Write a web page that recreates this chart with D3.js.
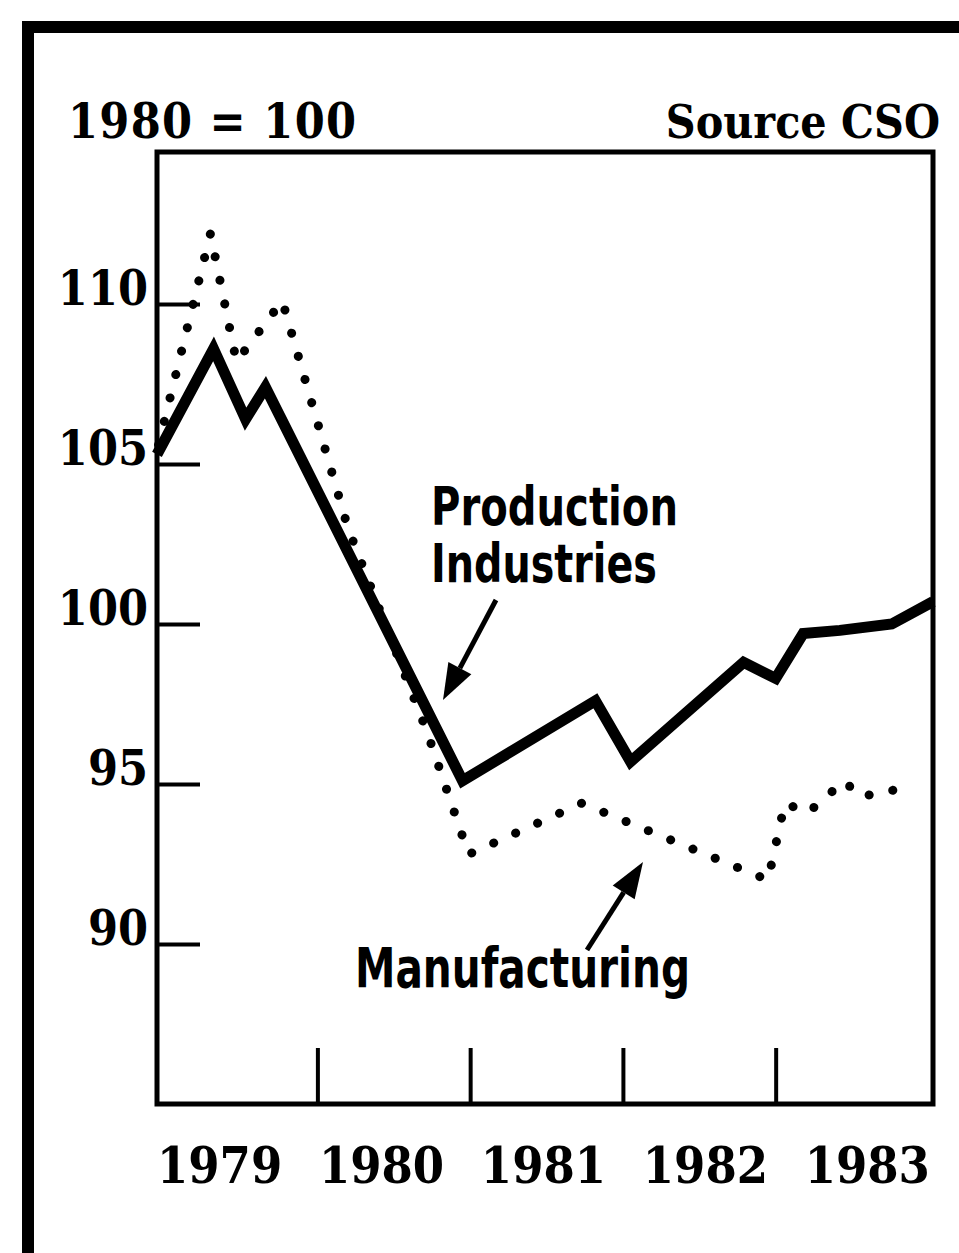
<!DOCTYPE html>
<html>
<head>
    <meta charset="utf-8" />
    <title>Production index 1979-1983</title>
    <style>
        body { margin: 0; background: #fff; }
        svg { display: block; }
        .serif { font-family: "DejaVu Serif", serif; font-weight: bold; font-stretch: condensed; }
        .cond { font-family: "DejaVu Sans", sans-serif; font-weight: bold; }
    </style>
</head>
<body>
    <svg id="chart"></svg>
    <script src="https://cdn.jsdelivr.net/npm/d3@7"></script>
    <script>
        // data (index, 1980 = 100)
        var prodYears = [1978.95, 1979.32, 1979.53, 1979.66, 1980.95, 1981.82, 1982.05, 1982.79, 1983.0, 1983.18, 1983.42, 1983.76, 1984.03];
        var prodValues = [105.3, 108.6, 106.4, 107.4, 95.1, 97.6, 95.7, 98.8, 98.3, 99.7, 99.8, 100.0, 100.7];

        var mfgYears = [1978.96, 1979.3, 1979.47, 1979.77, 1980.2, 1980.72, 1980.99, 1981.73, 1982.95, 1983.06, 1983.21, 1983.45, 1983.55, 1983.87];
        var mfgValues = [105.6, 112.2, 108.2, 110.1, 103.0, 96.6, 92.8, 94.4, 92.0, 94.4, 94.1, 95.1, 94.6, 94.9];

        var yTicks = [90, 95, 100, 105, 110];
        var yearTicks = [1980, 1981, 1982, 1983];
        var yearLabels = ["1979", "1980", "1981", "1982", "1983"];

        var W = 959, H = 1253;
        var svg = d3.select("#chart").attr("width", W).attr("height", H);

        var x = d3.scaleLinear().domain([1978.95, 1984.03]).range([157, 933]);
        var y = d3.scaleLinear().domain([85, 114.75]).range([1104, 152]);

        // outer box, cut off on the right and bottom
        svg.append("rect")
            .attr("x", 28).attr("y", 27)
            .attr("width", 1000).attr("height", 1300)
            .attr("fill", "none").attr("stroke", "#000").attr("stroke-width", 12);

        // titles
        svg.append("text").attr("class", "serif")
            .attr("x", 68).attr("y", 138)
            .attr("font-size", 48)
            .attr("textLength", 288).attr("lengthAdjust", "spacing")
            .text("1980 = 100");
        svg.append("text").attr("class", "serif")
            .attr("x", 940).attr("y", 138)
            .attr("text-anchor", "end")
            .attr("font-size", 46)
            .text("Source CSO");

        // plot frame
        svg.append("rect")
            .attr("x", x.range()[0]).attr("y", y.range()[1])
            .attr("width", x.range()[1] - x.range()[0])
            .attr("height", y.range()[0] - y.range()[1])
            .attr("fill", "none").attr("stroke", "#000").attr("stroke-width", 5);

        // y axis: ticks inside the frame, labels sit on the tick
        var yAxis = svg.append("g")
            .attr("transform", "translate(" + x.range()[0] + ",0)")
            .call(d3.axisRight(y).tickValues(yTicks).tickSize(43).tickFormat(""));
        yAxis.select(".domain").remove();
        yAxis.selectAll("line").attr("stroke", "#000").attr("stroke-width", 4);

        svg.selectAll(".ylab")
            .data(yTicks)
            .enter()
            .append("text")
            .attr("class", "serif ylab")
            .attr("x", 148)
            .attr("y", function(d) { return y(d) + 1; })
            .attr("text-anchor", "end")
            .attr("font-size", 48)
            .text(function(d) { return d; });

        // x axis: year boundary ticks pointing up
        var xAxis = svg.append("g")
            .attr("transform", "translate(0," + y.range()[0] + ")")
            .call(d3.axisTop(x).tickValues(yearTicks).tickSize(56).tickFormat(""));
        xAxis.select(".domain").remove();
        xAxis.selectAll("line").attr("stroke", "#000").attr("stroke-width", 4);

        var labelX = d3.scalePoint()
            .domain(yearLabels)
            .range([x(1979.36), x(1983.6)]);
        svg.selectAll(".xlab")
            .data(yearLabels)
            .enter()
            .append("text")
            .attr("class", "serif xlab")
            .attr("x", function(d) { return labelX(d); })
            .attr("y", 1183)
            .attr("text-anchor", "middle")
            .attr("font-size", 50)
            .text(function(d) { return d; });

        // series
        var line = d3.line()
            .x(function(d) { return x(d[0]); })
            .y(function(d) { return y(d[1]); });

        svg.append("path")
            .datum(d3.zip(mfgYears, mfgValues))
            .attr("d", line)
            .attr("fill", "none")
            .attr("stroke", "#000")
            .attr("stroke-width", 9)
            .attr("stroke-linecap", "round")
            .attr("stroke-dasharray", "0.1 24");

        svg.append("path")
            .datum(d3.zip(prodYears, prodValues))
            .attr("d", line)
            .attr("fill", "none")
            .attr("stroke", "#000")
            .attr("stroke-width", 11)
            .attr("stroke-linejoin", "miter");

        // annotations
        function arrow(x1, y1, x2, y2) {
            var ang = Math.atan2(y2 - y1, x2 - x1);
            var len = 36, half = 13;
            var bx = x2 - len * Math.cos(ang), by = y2 - len * Math.sin(ang);
            svg.append("line")
                .attr("x1", x1).attr("y1", y1).attr("x2", bx).attr("y2", by)
                .attr("stroke", "#000").attr("stroke-width", 5);
            svg.append("path")
                .attr("d", "M" + x2 + "," + y2 +
                    "L" + (bx + half * Math.sin(ang)) + "," + (by - half * Math.cos(ang)) +
                    "L" + (bx - half * Math.sin(ang)) + "," + (by + half * Math.cos(ang)) + "Z")
                .attr("fill", "#000");
        }

        // condensed bold labels squeezed to the widths in the original
        var lab = svg.append("text").attr("class", "cond").attr("font-size", 54);
        lab.append("tspan").attr("x", 431).attr("y", 525)
            .attr("textLength", 247).attr("lengthAdjust", "spacingAndGlyphs")
            .text("Production");
        lab.append("tspan").attr("x", 431).attr("y", 582)
            .attr("textLength", 226).attr("lengthAdjust", "spacingAndGlyphs")
            .text("Industries");
        arrow(496, 600, 443, 700);

        svg.append("text").attr("class", "cond")
            .attr("x", 355).attr("y", 987)
            .attr("font-size", 56)
            .attr("textLength", 335).attr("lengthAdjust", "spacingAndGlyphs")
            .text("Manufacturing");
        arrow(587, 950, 643, 862);
    </script>
</body>
</html>
